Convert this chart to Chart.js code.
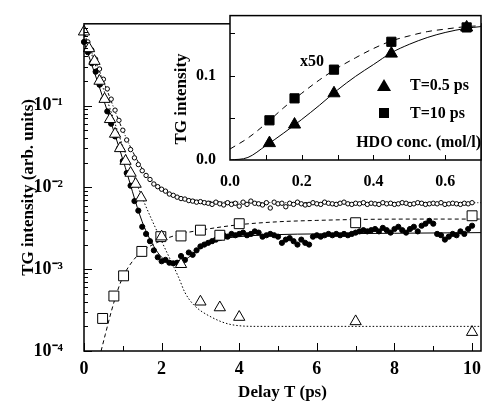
<!DOCTYPE html>
<html>
<head>
<meta charset="utf-8">
<script src="https://cdn.jsdelivr.net/npm/chart.js@4"></script>
<style>
  html, body { margin: 0; padding: 0; background: #fff; }
  #wrap { position: relative; width: 489px; height: 403px; }
  #main { position: absolute; left: 0; top: 0; }
  #inset { position: absolute; left: 170px; top: 0; }
</style>
</head>
<body>
<div id="wrap">
  <canvas id="main" width="489" height="403"></canvas>
  <canvas id="inset" width="319" height="200"></canvas>
</div>
<script>
// ---- main panel: TG signal vs delay ----
const delayFine = [
  0, 0.1, 0.2, 0.3, 0.4, 0.5, 0.6, 0.7, 0.8, 0.9,
  1.0, 1.1, 1.2, 1.3, 1.4, 1.5, 1.6, 1.7, 1.8, 1.9,
  2.0, 2.1, 2.2, 2.3, 2.4, 2.5, 2.6, 2.7, 2.8, 2.9,
  3.0, 3.1, 3.2, 3.3, 3.4, 3.5, 3.6, 3.7, 3.8, 3.9,
  4.0, 4.1, 4.2, 4.3, 4.4, 4.5, 4.6, 4.7, 4.8, 4.9,
  5.0, 5.1, 5.2, 5.3, 5.4, 5.5, 5.6, 5.7, 5.8, 5.9,
  6.0, 6.1, 6.2, 6.3, 6.4, 6.5, 6.6, 6.7, 6.8, 6.9,
  7.0, 7.1, 7.2, 7.3, 7.4, 7.5, 7.6, 7.7, 7.8, 7.9,
  8.0, 8.1, 8.2, 8.3, 8.4, 8.5, 8.6, 8.7, 8.8, 8.9,
  9.0, 9.1, 9.2, 9.3, 9.4, 9.5, 9.6, 9.7, 9.8, 9.9, 10.0
]
const filledDots = [
  0.6, 0.45, 0.33, 0.26, 0.18, 0.12, 0.085, 0.06, 0.042, 0.03,
  0.021, 0.015, 0.0105, 0.0068, 0.0052, 0.0033, 0.0027, 0.0022, 0.0017, 0.0014,
  0.00125, 0.0013, 0.0012, 0.00118, 0.0012, 0.00145, 0.0013, 0.0016, 0.0015, 0.0017,
  0.0019, 0.002, 0.0021, 0.0022, 0.0023, 0.0024, 0.0026, 0.0025, 0.0027, 0.0026,
  0.0027, 0.0028, 0.0026, 0.0027, 0.0029, 0.0028, 0.0025, 0.0026, 0.0027, 0.0026,
  0.0025, 0.0021, 0.0023, 0.0024, 0.0022, 0.002, 0.0023, 0.0021, 0.002, 0.0025,
  0.0026, 0.0025, 0.0026, 0.0027, 0.0026, 0.0027, 0.0026, 0.0027, 0.0026, 0.0027,
  0.0028, 0.0029, 0.003, 0.0029, 0.003, 0.0031, 0.0029, 0.0032, 0.003, 0.0028,
  0.0031, 0.0033, 0.003, 0.0028, 0.0031, 0.0033, 0.0029, 0.0034, 0.0036, 0.0039,
  0.0036, 0.0027, 0.0026, 0.0023, 0.0025, 0.0027, 0.0026, 0.0029, 0.0027, 0.0031, 0.0034
]
const openCircles = [
  0.78, 0.6, 0.48, 0.37, 0.28, 0.21, 0.16, 0.12, 0.088, 0.066,
  0.05, 0.038, 0.029, 0.023, 0.019, 0.016, 0.014, 0.0125, 0.011, 0.0102,
  0.0095, 0.009, 0.0083, 0.008, 0.0076, 0.0073, 0.0072, 0.0069, 0.0068, 0.0066,
  0.0067, 0.0065, 0.0064, 0.0062, 0.0066, 0.0063, 0.0061, 0.0065, 0.0062, 0.0064,
  0.0059, 0.0066, 0.0062, 0.0068, 0.0064, 0.0063, 0.0061, 0.0065, 0.0056, 0.0066,
  0.0063, 0.0064, 0.0058, 0.0064, 0.0062, 0.0066, 0.0063, 0.0061, 0.0062, 0.0065,
  0.0063, 0.0062, 0.0066, 0.0064, 0.0063, 0.0062, 0.0064, 0.0066, 0.0063, 0.0062,
  0.0064, 0.0063, 0.0065, 0.0062, 0.0064, 0.0063, 0.0062, 0.0065, 0.0063, 0.0064,
  0.0062, 0.0063, 0.0065, 0.0064, 0.0062, 0.0063, 0.0065, 0.0064, 0.0062, 0.0063,
  0.0064, 0.0063, 0.0065, 0.0062, 0.0063, 0.0064, 0.0063, 0.0062, 0.0064, 0.0063, 0.0065
]
const triDelay = [0, 0.13, 0.27, 0.4, 0.53, 0.67, 0.8, 0.93, 1.07, 1.2, 1.33, 1.47, 2.0, 2.5, 3.0, 3.5, 4.0, 7.0, 10.0]
const openTriangles = [0.8, 0.5, 0.35, 0.2, 0.12, 0.068, 0.045, 0.03, 0.021, 0.015, 0.011, 0.0075, 0.0025, 0.00115, 0.0004, 0.00034, 0.00026, 0.00023, 0.00017]
const sqDelay = [0.48, 0.77, 1.02, 1.49, 1.98, 2.5, 3.0, 3.5, 4.0, 7.0, 10.0]
const openSquares = [0.00025, 0.00047, 0.00083, 0.00165, 0.0025, 0.00255, 0.003, 0.0026, 0.0036, 0.0037, 0.0045]

// fitted curves
const fitTriX = [0, 0.5, 1.0, 1.5, 2.0, 2.44, 2.6, 2.82, 3.28, 3.8, 4.5, 6, 8, 10.23]
const fitTriY = [0.8, 0.16, 0.032, 0.0075, 0.0022, 0.00079, 0.00052, 0.00037, 0.00026, 0.00021, 0.0002, 0.0002, 0.0002, 0.0002]
const fitSqX = [0.44, 0.55, 0.7, 0.85, 1.0, 1.25, 1.5, 2.0, 2.5, 3.0, 4.0, 5.0, 6.0, 7.0, 8.5, 10.23]
const fitSqY = [0.0001, 0.00016, 0.0003, 0.00052, 0.0008, 0.00125, 0.00165, 0.00225, 0.0027, 0.003, 0.0035, 0.0038, 0.00395, 0.00405, 0.0041, 0.0041]
const fitDotX = [0, 0.5, 1.0, 1.5, 1.8, 2.0, 2.3, 2.6, 3.0, 3.5, 4.0, 5.0, 6.0, 8.0, 10.23]
const fitDotY = [0.6, 0.12, 0.022, 0.0038, 0.0019, 0.0014, 0.00115, 0.0013, 0.0018, 0.0023, 0.0025, 0.00265, 0.0027, 0.00275, 0.0028]
const fitCircX = [0, 0.5, 1.0, 1.5, 2.0, 2.5, 3.0, 4.0, 6.0, 10.23]
const fitCircY = [0.75, 0.2, 0.05, 0.017, 0.0095, 0.0076, 0.0069, 0.0066, 0.0065, 0.0065]

const xLabels = [0, 2, 4, 6, 8, 10]
const xMinor = [1, 3, 5, 7, 9]
const yLabels = [1e-4, 1e-3, 1e-2, 1e-1]
const yLabelText = { '-4': '10⁻⁴', '-3': '10⁻³', '-2': '10⁻²', '-1': '10⁻¹' }

// ---- inset: TG intensity vs HDO concentration ----
const hdoConc = [0.11, 0.18, 0.29, 0.45, 0.66]
const tgShort = [0.020, 0.042, 0.079, 0.126, 0.157]   // T=0.5 ps
const tgLong = [0.047, 0.073, 0.107, 0.140, 0.157]    // T=10 ps, x50
const insetFitX = [0, 0.05, 0.1, 0.15, 0.2, 0.25, 0.3, 0.35, 0.4, 0.45, 0.5, 0.55, 0.6, 0.66, 0.7]
const insetFitShort = [0, 0.003, 0.017, 0.032, 0.048, 0.065, 0.083, 0.099, 0.113, 0.127, 0.137, 0.145, 0.151, 0.156, 0.158]
const insetFitLong = [0.013, 0.026, 0.043, 0.062, 0.079, 0.095, 0.109, 0.121, 0.132, 0.141, 0.147, 0.152, 0.155, 0.158, 0.159]
const insetXLabels = [0, 0.2, 0.4, 0.6]
const insetYLabels = [0, 0.1]

const serif = '"Liberation Serif", "Times New Roman", serif'
const pts = (xs, ys) => xs.map((x, i) => ({ x, y: ys[i] }))

const markers = (data, style, r, fill, order) => ({
  data, pointStyle: style, pointRadius: r, backgroundColor: fill,
  borderColor: '#000', borderWidth: 1, showLine: false, clip: false, order
})
const fit = (data, dash, order) => ({
  data, showLine: true, pointRadius: 0, borderColor: '#000', borderWidth: 1,
  borderDash: dash, cubicInterpolationMode: 'monotone', order
})

// inward ticks + frame, through the chart's scales
const frameTicks = {
  id: 'frameTicks',
  beforeDraw(chart, args, o) {
    if (!o.fill) return
    const { ctx, chartArea: a } = chart
    ctx.save()
    ctx.fillStyle = '#fff'
    ctx.fillRect(a.left, a.top, a.right - a.left, a.bottom - a.top)
    ctx.restore()
  },
  afterDatasetsDraw(chart, args, o) {
    const { ctx, chartArea: a } = chart
    const xs = chart.scales.x, ys = chart.scales.y
    ctx.save()
    ctx.strokeStyle = '#000'
    ctx.lineWidth = 1
    ctx.beginPath()
    o.xTicks.forEach(([v, len]) => {
      const p = Math.round(xs.getPixelForValue(v)) + 0.5
      ctx.moveTo(p, a.bottom); ctx.lineTo(p, a.bottom - len)
    })
    o.yTicks.forEach(([v, len]) => {
      const p = Math.round(ys.getPixelForValue(v)) + 0.5
      ctx.moveTo(a.left, p); ctx.lineTo(a.left + len, p)
    })
    ctx.stroke()
    ctx.lineWidth = 1.5
    ctx.strokeRect(a.left, a.top, a.right - a.left, a.bottom - a.top)
    ctx.restore()
  }
}

const mainXTicks = xLabels.map(v => [v, 8]).concat(xMinor.map(v => [v, 5]))
const mainYTicks = []
for (let e = -4; e < 0; e++) {
  mainYTicks.push([Math.pow(10, e), 8])
  for (let m = 2; m <= 9; m++) mainYTicks.push([m * Math.pow(10, e), 4])
}

const tickFont = { family: serif, size: 18, weight: 'bold' }
const titleFont = { family: serif, size: 17, weight: 'bold' }

new Chart(document.querySelector('#main'), {
  type: 'scatter',
  data: {
    datasets: [
      markers(pts(triDelay, openTriangles), 'triangle', 6.5, '#fff', 0),
      markers(pts(sqDelay, openSquares), 'rect', 7, '#fff', 0),
      markers(pts(delayFine, filledDots), 'circle', 2.6, '#000', 1),
      markers(pts(delayFine, openCircles), 'circle', 2.2, '#fff', 2),
      fit(pts(fitTriX, fitTriY), [1.5, 2], 10),
      fit(pts(fitSqX, fitSqY), [4, 3], 10),
      fit(pts(fitDotX, fitDotY), [], 10),
      fit(pts(fitCircX, fitCircY), [3, 2, 1, 2], 10)
    ]
  },
  options: {
    responsive: false,
    animation: false,
    layout: { padding: { top: 13, right: 2, left: 0, bottom: 0 } },
    plugins: {
      legend: { display: false },
      tooltip: { enabled: false },
      frameTicks: { xTicks: mainXTicks, yTicks: mainYTicks, fill: false }
    },
    scales: {
      x: {
        type: 'linear', min: 0, max: 10.23,
        grid: { display: false }, border: { display: false },
        afterBuildTicks: s => { s.ticks = xLabels.map(v => ({ value: v })) },
        afterFit: s => { s.height = 52 },
        ticks: { color: '#000', font: tickFont, padding: 0, maxRotation: 0 },
        title: { display: true, text: 'Delay T (ps)', color: '#000', font: titleFont, padding: { top: 0, bottom: 0 } }
      },
      y: {
        type: 'logarithmic', min: 1e-4, max: 1,
        grid: { display: false }, border: { display: false },
        afterBuildTicks: s => { s.ticks = yLabels.map(v => ({ value: v })) },
        afterFit: s => { s.width = 84 },
        ticks: {
          color: '#000', font: tickFont, padding: 13,
          callback: v => yLabelText[String(Math.round(Math.log10(v)))]
        },
        title: { display: true, text: 'TG intensity (arb. units)', color: '#000', font: titleFont, padding: { top: 18, bottom: 0 } }
      }
    }
  },
  plugins: [frameTicks]
})

// inset annotations
const insetNotes = {
  id: 'insetNotes',
  afterDraw(chart) {
    const { ctx } = chart
    ctx.save()
    ctx.fillStyle = '#000'
    ctx.font = `bold 17px ${serif}`
    ctx.textBaseline = 'middle'
    ctx.save()
    ctx.translate(12, 99)
    ctx.rotate(-Math.PI / 2)
    ctx.textAlign = 'center'
    ctx.fillText('TG intensity', 0, 0)
    ctx.restore()
    ctx.font = `bold 16px ${serif}`
    ctx.textAlign = 'center'
    ctx.fillText('x50', 142, 62)
    ctx.textAlign = 'left'
    ctx.fillText('T=0.5 ps', 240, 86)
    ctx.fillText('T=10 ps', 240, 114)
    ctx.textAlign = 'right'
    ctx.fillText('HDO conc. (mol/l)', 311, 143)
    ctx.beginPath()
    ctx.moveTo(214, 79); ctx.lineTo(221, 91); ctx.lineTo(207, 91); ctx.closePath()
    ctx.fill()
    ctx.fillRect(209, 108, 10, 10)
    ctx.restore()
  }
}

const insetXTicks = [0.1, 0.2, 0.3, 0.4, 0.5, 0.6].map(v => [v, 5])
const insetYTicks = [0.05, 0.1, 0.15].map(v => [v, 5])

new Chart(document.querySelector('#inset'), {
  type: 'scatter',
  data: {
    datasets: [
      markers(pts(hdoConc, tgShort), 'triangle', 7, '#000', 0),
      markers(pts(hdoConc, tgLong), 'rect', 6.5, '#000', 0),
      fit(pts(insetFitX, insetFitShort), [], 10),
      fit(pts(insetFitX, insetFitLong), [6, 5], 10)
    ]
  },
  options: {
    responsive: false,
    animation: false,
    layout: { padding: { top: 13, right: 2, left: 0, bottom: 0 } },
    plugins: {
      legend: { display: false },
      tooltip: { enabled: false },
      frameTicks: { xTicks: insetXTicks, yTicks: insetYTicks, fill: true }
    },
    scales: {
      x: {
        type: 'linear', min: 0, max: 0.7,
        grid: { display: false }, border: { display: false },
        afterBuildTicks: s => { s.ticks = insetXLabels.map(v => ({ value: v })) },
        afterFit: s => { s.height = 40 },
        ticks: { color: '#000', font: { family: serif, size: 16, weight: 'bold' }, padding: 4, maxRotation: 0, callback: v => v.toFixed(1) }
      },
      y: {
        type: 'linear', min: 0, max: 0.171,
        grid: { display: false }, border: { display: false },
        afterBuildTicks: s => { s.ticks = insetYLabels.map(v => ({ value: v })) },
        afterFit: s => { s.width = 60 },
        ticks: { color: '#000', font: { family: serif, size: 16, weight: 'bold' }, padding: 6, callback: v => v.toFixed(1) }
      }
    }
  },
  plugins: [frameTicks, insetNotes]
})
</script>
</body>
</html>
